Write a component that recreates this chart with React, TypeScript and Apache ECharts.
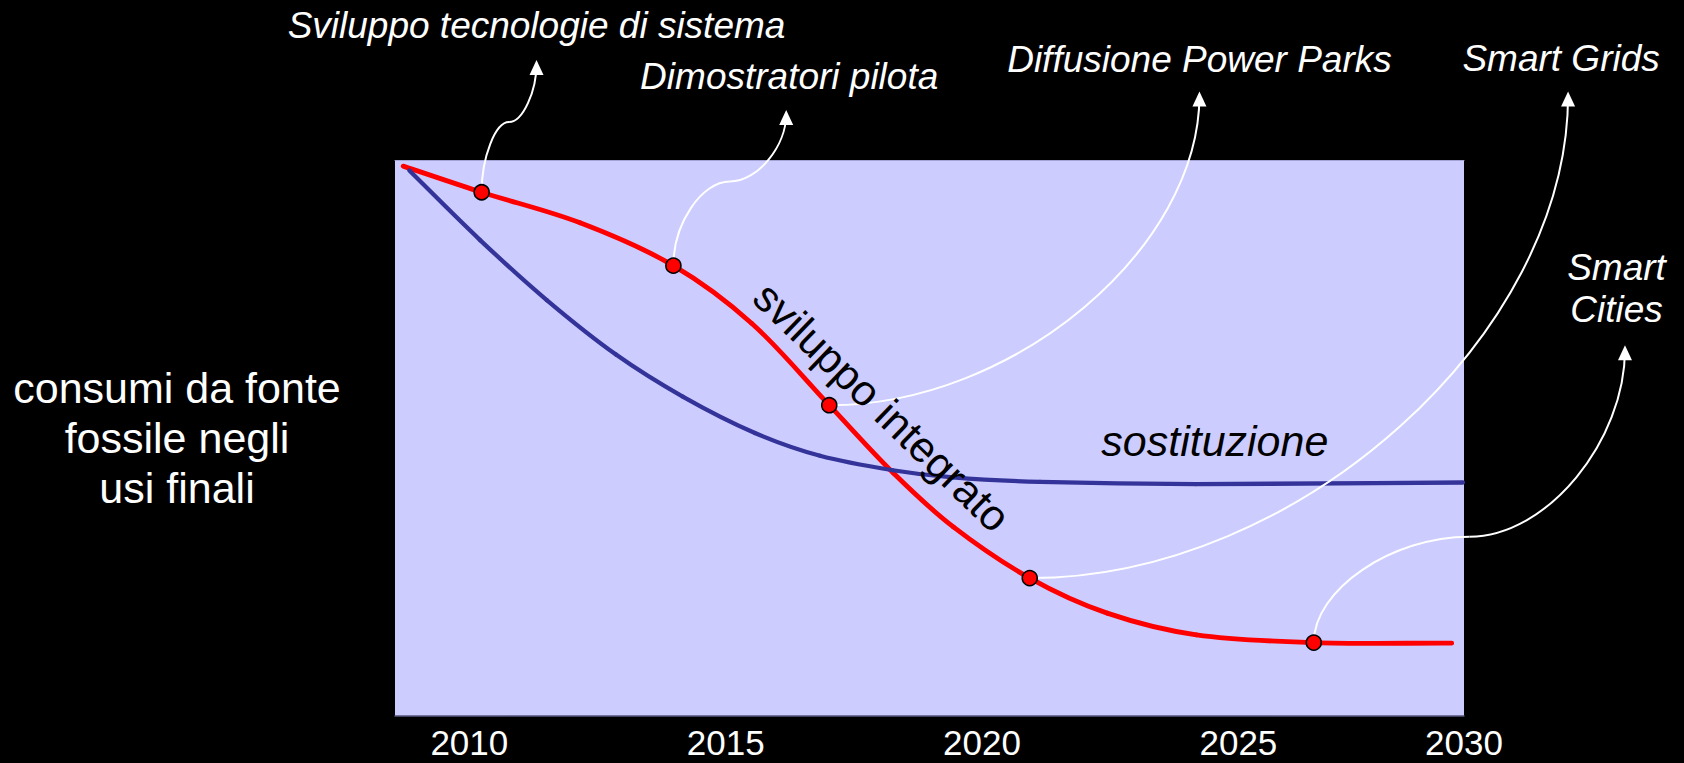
import React, { useEffect, useRef } from 'react';
import * as echarts from 'echarts';

const FONT = '"Liberation Sans", Arial, Helvetica, sans-serif';

// ---- axes ----
const X_MIN = 2008.55;
const X_MAX = 2029.4;
const Y_MIN = 0;
const Y_MAX = 100;
const TICK_VALUES = [2010, 2015, 2020, 2025, X_MAX];
const TICK_LABELS = ['2010', '2015', '2020', '2025', '2030'];
const Y_AXIS_NAME = 'consumi da fonte\nfossile negli\nusi finali';

// ---- series (year, relative fossil consumption) ----
const INTEGRATED_DEVELOPMENT: [number, number][] = [
  [2008.71, 98.9],
  [2010.24, 94.2],
  [2012.16, 88.7],
  [2013.98, 81.0],
  [2015.51, 70.6],
  [2017.02, 55.9],
  [2018.27, 43.7],
  [2019.44, 34.0],
  [2020.93, 24.8],
  [2022.44, 18.5],
  [2024.18, 14.6],
  [2026.47, 13.2],
  [2029.16, 13.1],
];

const SUBSTITUTION: [number, number][] = [
  [2008.83, 98.1],
  [2010.21, 85.6],
  [2011.51, 74.8],
  [2012.86, 65.0],
  [2014.17, 57.4],
  [2015.57, 50.9],
  [2016.84, 46.8],
  [2018.26, 44.2],
  [2019.43, 42.9],
  [2021.13, 42.1],
  [2024.17, 41.7],
  [2029.38, 42.0],
];

// ---- milestones on the red curve and their callouts ----
const MILESTONES: [number, number][] = [
  [2010.24, 94.2],
  [2013.98, 81.0],
  [2017.02, 55.9],
  [2020.93, 24.8],
  [2026.47, 13.2],
];
const MILESTONE_NAMES = [
  'Sviluppo tecnologie di sistema',
  'Dimostratori pilota',
  'Diffusione Power Parks',
  'Smart Grids',
  'Smart\nCities',
];
const CALLOUT_TIPS: [number, number][] = [
  [2011.31, 118.0],
  [2016.18, 109.0],
  [2024.24, 112.3],
  [2031.43, 112.3],
  [2032.54, 66.7],
];

const CURVE_LABELS = ['sviluppo integrato', 'sostituzione'];
const CURVE_LABEL_ANCHORS: [number, number][] = [
  [2018.05, 55.6],
  [2024.54, 49.5],
];

// ---- layout / style (not data) ----
const CALLOUT_LAYOUT = [
  { kind: 's', adj: 0.53, dx: 0, dy: -34 },
  { kind: 's', adj: 0.54, dx: 3, dy: -33 },
  { kind: 'l', adj: 0, dx: 0, dy: -32.5 },
  { kind: 'l', adj: 0, dx: -7, dy: -32.7 },
  { kind: 's', adj: 0.356, dx: -8.5, dy: -56.6 },
];
const CURVE_LABEL_LAYOUT = [
  { rotation: -44, fontStyle: 'normal' },
  { rotation: 0, fontStyle: 'italic' },
];

// Smooth curve series: each data item draws the cubic segment to the next
// point, with tangents from neighbouring points (computed in pixel space).
function splineSeries(name: string, points: [number, number][], color: string, width: number, z: number) {
  return {
    name,
    type: 'custom',
    coordinateSystem: 'cartesian2d',
    data: points,
    encode: { x: 0, y: 1 },
    clip: false,
    silent: true,
    z,
    renderItem: (params: any, api: any) => {
      const i = params.dataIndex;
      const n = points.length;
      if (i >= n - 1) return null;
      const P = (k: number) => api.coord(points[Math.max(0, Math.min(n - 1, k))]);
      const dist = (a: number[], b: number[]) => Math.hypot(b[0] - a[0], b[1] - a[1]);
      const tangent = (k: number) => {
        if (k <= 0) {
          const a = P(0), b = P(1), d = dist(a, b);
          return [(b[0] - a[0]) / d, (b[1] - a[1]) / d];
        }
        if (k >= n - 1) {
          const a = P(n - 2), b = P(n - 1), d = dist(a, b);
          return [(b[0] - a[0]) / d, (b[1] - a[1]) / d];
        }
        const a = P(k - 1), m = P(k), b = P(k + 1);
        const d = dist(a, m) + dist(m, b);
        return [(b[0] - a[0]) / d, (b[1] - a[1]) / d];
      };
      const p1 = P(i), p2 = P(i + 1);
      const seg = dist(p1, p2);
      const t1 = tangent(i), t2 = tangent(i + 1);
      return {
        type: 'bezierCurve',
        shape: {
          x1: p1[0], y1: p1[1],
          cpx1: p1[0] + (t1[0] * seg) / 3, cpy1: p1[1] + (t1[1] * seg) / 3,
          cpx2: p2[0] - (t2[0] * seg) / 3, cpy2: p2[1] - (t2[1] * seg) / 3,
          x2: p2[0], y2: p2[1],
        },
        style: { stroke: color, lineWidth: width, fill: 'none', lineCap: 'round' },
      };
    },
  };
}

function buildOption(): any {
  const calloutData = MILESTONES.map((m, i) => [m[0], m[1], CALLOUT_TIPS[i][0], CALLOUT_TIPS[i][1]]);

  return {
    animation: false,
    backgroundColor: '#000000',
    grid: {
      left: 395,
      top: 160,
      width: 1069,
      height: 556,
      show: true,
      backgroundColor: '#ccccff',
      borderWidth: 0,
      containLabel: false,
      outerBoundsMode: 'none',
    },
    xAxis: [
      {
        type: 'value',
        min: X_MIN,
        max: X_MAX,
        position: 'bottom',
        axisLine: { show: true, lineStyle: { color: '#55557f', width: 1.5 } },
        axisTick: { show: false },
        splitLine: { show: false },
        axisLabel: {
          customValues: TICK_VALUES,
          showMinLabel: true,
          showMaxLabel: true,
          formatter: (v: number) => {
            const idx = TICK_VALUES.findIndex((t) => Math.abs(t - v) < 0.01);
            return idx >= 0 ? TICK_LABELS[idx] : '';
          },
          color: '#ffffff',
          fontSize: 35,
          lineHeight: 32,
          fontFamily: FONT,
          margin: 26,
          verticalAlign: 'middle',
        },
      },
      {
        type: 'value',
        min: X_MIN,
        max: X_MAX,
        position: 'top',
        axisLine: { show: true, lineStyle: { color: '#a3a3d6', width: 1 } },
        axisTick: { show: false },
        splitLine: { show: false },
        axisLabel: { show: false },
      },
    ],
    yAxis: {
      type: 'value',
      min: Y_MIN,
      max: Y_MAX,
      axisLine: { show: false },
      axisTick: { show: false },
      axisLabel: { show: false },
      splitLine: { show: false },
      name: Y_AXIS_NAME,
      nameLocation: 'middle',
      nameRotate: 0,
      nameGap: 218,
      nameTextStyle: {
        color: '#ffffff',
        fontSize: 43,
        fontFamily: FONT,
        lineHeight: 50,
        align: 'center',
        verticalAlign: 'middle',
      },
    },
    series: [
      splineSeries('sviluppo integrato', INTEGRATED_DEVELOPMENT, '#ff0000', 4.8, 2),
      splineSeries('sostituzione', SUBSTITUTION, '#333399', 4.3, 3),
      {
        name: 'callouts',
        type: 'custom',
        coordinateSystem: 'cartesian2d',
        data: calloutData,
        encode: { x: 0, y: 1 },
        clip: false,
        silent: true,
        z: 4,
        renderItem: (params: any, api: any) => {
          const i = params.dataIndex;
          const s = api.coord([api.value(0), api.value(1)]);
          const e = api.coord([api.value(2), api.value(3)]);
          const L = CALLOUT_LAYOUT[i];
          const curves: any[] = [];
          if (L.kind === 's') {
            const ym = s[1] + L.adj * (e[1] - s[1]);
            const xm = (s[0] + e[0]) / 2;
            curves.push({
              x1: s[0], y1: s[1],
              cpx1: s[0], cpy1: (s[1] + ym) / 2,
              cpx2: s[0] + (e[0] - s[0]) / 4, cpy2: ym,
              x2: xm, y2: ym,
            });
            curves.push({
              x1: xm, y1: ym,
              cpx1: s[0] + (3 * (e[0] - s[0])) / 4, cpy1: ym,
              cpx2: e[0], cpy2: (ym + e[1]) / 2,
              x2: e[0], y2: e[1] + 4,
            });
          } else {
            curves.push({
              x1: s[0], y1: s[1],
              cpx1: (s[0] + e[0]) / 2, cpy1: s[1],
              cpx2: e[0], cpy2: (s[1] + e[1]) / 2,
              x2: e[0], y2: e[1] + 4,
            });
          }
          const children: any[] = curves.map((shape) => ({
            type: 'bezierCurve',
            shape,
            style: { stroke: '#ffffff', lineWidth: 2, fill: 'none' },
          }));
          children.push({
            type: 'polygon',
            shape: { points: [[e[0], e[1]], [e[0] - 7, e[1] + 15], [e[0] + 7, e[1] + 15]] },
            style: { fill: '#ffffff', stroke: 'none' },
          });
          children.push({
            type: 'text',
            x: e[0] + L.dx,
            y: e[1] + L.dy,
            style: {
              text: MILESTONE_NAMES[i],
              fill: '#ffffff',
              fontSize: 37,
              fontStyle: 'italic',
              fontFamily: FONT,
              align: 'center',
              verticalAlign: 'middle',
              lineHeight: 42,
            },
          });
          return { type: 'group', children };
        },
      },
      {
        name: 'curve labels',
        type: 'custom',
        coordinateSystem: 'cartesian2d',
        data: CURVE_LABEL_ANCHORS,
        encode: { x: 0, y: 1 },
        clip: false,
        silent: true,
        z: 5,
        renderItem: (params: any, api: any) => {
          const i = params.dataIndex;
          const p = api.coord([api.value(0), api.value(1)]);
          const L = CURVE_LABEL_LAYOUT[i];
          return {
            type: 'text',
            x: p[0],
            y: p[1],
            rotation: (L.rotation * Math.PI) / 180,
            style: {
              text: CURVE_LABELS[i],
              fill: '#000000',
              fontSize: 43,
              fontStyle: L.fontStyle,
              fontFamily: FONT,
              align: 'center',
              verticalAlign: 'middle',
            },
          };
        },
      },
      {
        name: 'milestones',
        type: 'scatter',
        data: MILESTONES,
        symbol: 'circle',
        symbolSize: 15,
        silent: true,
        z: 6,
        itemStyle: { color: '#ff0000', borderColor: '#000000', borderWidth: 1.6, opacity: 1 },
      },
    ],
  };
}

export default function App() {
  const ref = useRef<HTMLDivElement | null>(null);
  useEffect(() => {
    document.body.style.margin = '0';
    document.body.style.background = '#000';
    if (!ref.current) return;
    const chart = echarts.init(ref.current, null, { renderer: 'svg' });
    chart.setOption(buildOption());
    return () => {
      chart.dispose();
    };
  }, []);
  return <div ref={ref} style={{ width: 1684, height: 763, background: '#000' }} />;
}
